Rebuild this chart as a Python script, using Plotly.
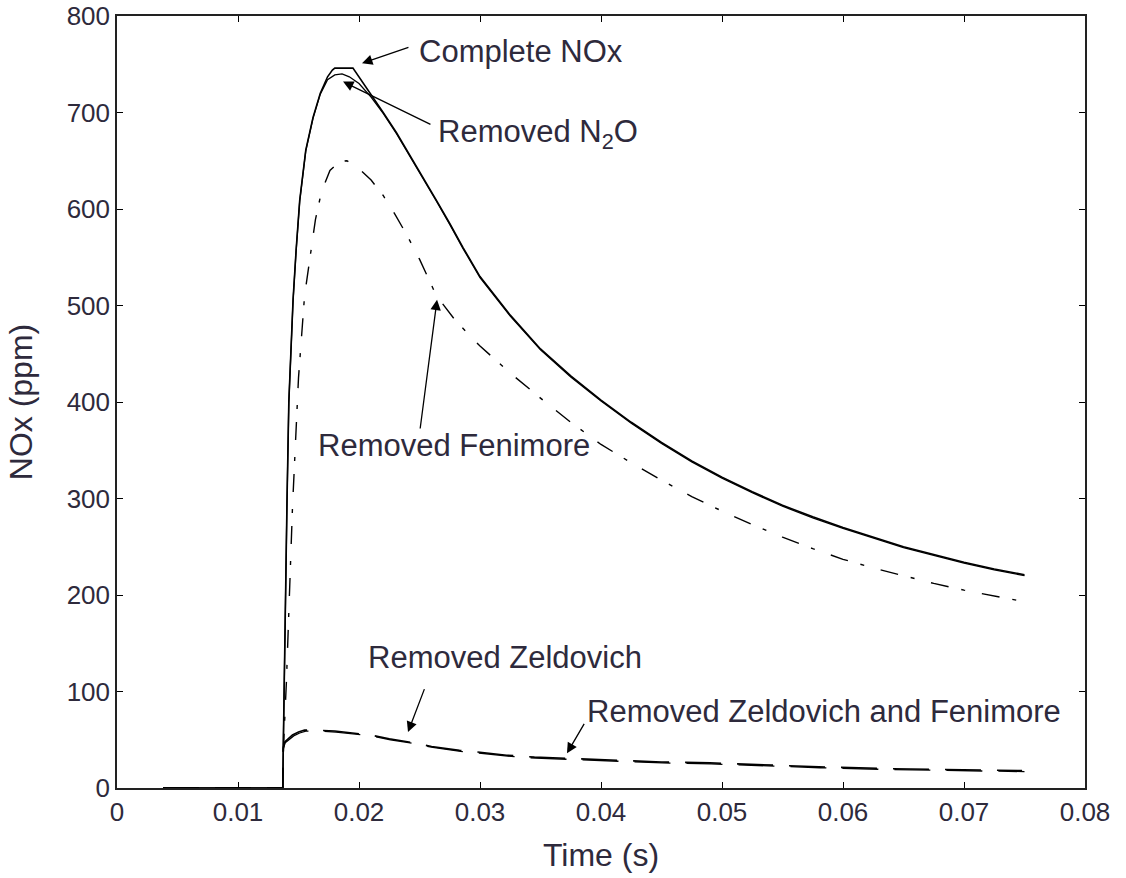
import plotly.graph_objects as go

# ---- data ----
t_complete = [0.0038, 0.0137, 0.01375, 0.0139, 0.01405, 0.0142, 0.01455, 0.0148, 0.0151, 0.0156,
              0.0162, 0.0168, 0.0174, 0.0178, 0.0180, 0.0195, 0.0200, 0.0210, 0.0220, 0.0231,
              0.0242, 0.0253, 0.0264, 0.0275, 0.0286, 0.030, 0.0325, 0.035, 0.0375, 0.040,
              0.0425, 0.045, 0.0475, 0.050, 0.0525, 0.055, 0.0575, 0.060, 0.0625, 0.065,
              0.0675, 0.070, 0.0725, 0.075]
nox_complete = [0, 0, 50, 195, 298, 400, 506, 557, 609, 661,
                695, 720, 737, 744, 746, 746, 737, 718, 700, 679,
                656, 633, 609, 585, 560, 530, 490, 455, 427, 402,
                379, 358, 339, 322, 307, 293, 281, 270, 260, 250,
                242, 234, 227, 221]

t_no_n2o = [0.0038, 0.0137, 0.01375, 0.0139, 0.01405, 0.0142, 0.01455, 0.0148, 0.0151, 0.0156,
            0.0162, 0.0168, 0.0174, 0.0180, 0.0186, 0.0192, 0.0200, 0.0210, 0.0220, 0.0231,
            0.0242, 0.0253, 0.0264, 0.0275, 0.0286, 0.030, 0.0325, 0.035, 0.0375, 0.040,
            0.0425, 0.045, 0.0475, 0.050, 0.0525, 0.055, 0.0575, 0.060, 0.0625, 0.065,
            0.0675, 0.070, 0.0725, 0.075]
nox_no_n2o = [0, 0, 49, 194, 297, 399, 505, 556, 608, 660,
              694, 719, 734, 739, 740, 737, 730, 716, 699, 678,
              655, 632, 608, 584, 559, 529, 489, 454, 426, 401,
              378, 357, 338, 321, 306, 292, 280, 269, 259, 249,
              241, 233, 226, 220]

t_no_fen = [0.0038, 0.0137, 0.01375, 0.0140, 0.0145, 0.0150, 0.0155, 0.0161, 0.0164, 0.0169,
            0.0176, 0.0184, 0.0190, 0.0198, 0.0210, 0.0220, 0.0230, 0.0240, 0.0250, 0.0264,
            0.0280, 0.030, 0.0325, 0.035, 0.0375, 0.040, 0.0425, 0.045, 0.0475, 0.050,
            0.0525, 0.055, 0.0575, 0.060, 0.0625, 0.065, 0.0675, 0.070, 0.0725, 0.075]
nox_no_fen = [0, 0, 40, 110, 290, 425, 510, 565, 589, 618,
              640, 649, 650, 644, 630, 614, 594, 572, 548, 510,
              484, 458, 430, 404, 379, 356, 337, 319, 302, 287,
              273, 260, 248, 237, 228, 220, 212, 205, 199, 193]

t_no_zel = [0.0038, 0.0137, 0.01375, 0.01388, 0.0145, 0.0150, 0.0155, 0.0165, 0.0180, 0.0195,
            0.0209, 0.0225, 0.0240, 0.0260, 0.0283, 0.0300, 0.0322, 0.0345, 0.0366, 0.0390,
            0.0410, 0.0450, 0.0490, 0.0531, 0.0580, 0.0641, 0.0700, 0.0748]
nox_no_zel = [0, 0, 42, 48, 55, 58, 60, 60, 59, 57,
              55, 51, 48, 43, 39, 37, 34, 32, 31, 30,
              29, 27, 26, 24, 22, 20, 19, 18]

t_no_zel_fen = [0.0038, 0.0137, 0.01375, 0.0139, 0.0146, 0.0151, 0.0156, 0.0166, 0.0181, 0.0196,
                0.0210, 0.0226, 0.0241, 0.0261, 0.0284, 0.0301, 0.0323, 0.0346, 0.0367, 0.0391,
                0.0411, 0.0451, 0.0491, 0.0532, 0.0581, 0.0642, 0.0701, 0.0750]
nox_no_zel_fen = [0, 0, 41, 47, 54, 57, 59, 59, 58, 56,
                  54, 50, 47, 42, 38, 36, 33, 31, 30, 29,
                  28, 26, 25, 23, 21, 19, 18, 17]

x_ticks = [0, 0.01, 0.02, 0.03, 0.04, 0.05, 0.06, 0.07, 0.08]
x_tick_labels = ["0", "0.01", "0.02", "0.03", "0.04", "0.05", "0.06", "0.07", "0.08"]
y_ticks = [0, 100, 200, 300, 400, 500, 600, 700, 800]

labels = ["Complete NOx", "Removed N<sub>2</sub>O", "Removed Fenimore",
          "Removed Zeldovich", "Removed Zeldovich and Fenimore"]
label_pos = [(0.02480, 763), (0.02640, 678), (0.01645, 355), (0.02060, 135), (0.03870, 79)]
arrow_tail = [(0.02421, 768), (0.02603, 687), (0.02504, 371), (0.02545, 104), (0.03868, 68)]
arrow_head = [(0.02025, 751), (0.01868, 732), (0.02645, 506), (0.02405, 58), (0.03719, 36)]

FONT = "Liberation Sans, Arial, sans-serif"
TXT = "#2e2a3c"

fig = go.Figure()
fig.add_trace(go.Scatter(x=t_complete, y=nox_complete, mode="lines",
                         line=dict(color="black", width=1.6), name=labels[0]))
fig.add_trace(go.Scatter(x=t_no_n2o, y=nox_no_n2o, mode="lines",
                         line=dict(color="black", width=1.3), name=labels[1]))
fig.add_trace(go.Scatter(x=t_no_fen, y=nox_no_fen, mode="lines",
                         line=dict(color="black", width=1.4, dash="18px,13px,4px,17px"), name=labels[2]))
fig.add_trace(go.Scatter(x=t_no_zel, y=nox_no_zel, mode="lines",
                         line=dict(color="black", width=1.6, dash="36px,16px"), name=labels[3]))
fig.add_trace(go.Scatter(x=t_no_zel_fen, y=nox_no_zel_fen, mode="lines",
                         line=dict(color="black", width=1.3, dash="36px,16px"), name=labels[4]))

annotations = []
for (tx, ty), (hx, hy) in zip(arrow_tail, arrow_head):
    annotations.append(dict(x=hx, y=hy, ax=tx, ay=ty, xref="x", yref="y", axref="x", ayref="y",
                            text="", showarrow=True, arrowhead=2, arrowsize=1.6, arrowwidth=1.3,
                            arrowcolor="black", standoff=0, startstandoff=0))
for lab, (lx, ly) in zip(labels, label_pos):
    annotations.append(dict(x=lx, y=ly, xref="x", yref="y", text=lab, showarrow=False,
                            xanchor="left", yanchor="middle",
                            font=dict(family=FONT, size=31, color=TXT)))

fig.update_layout(
    width=1126, height=878,
    margin=dict(l=117, r=41, t=16, b=90),
    paper_bgcolor="white", plot_bgcolor="white",
    showlegend=False,
    annotations=annotations,
    font=dict(family=FONT, color=TXT),
)
fig.update_xaxes(range=[0, 0.08], tickvals=x_ticks, ticktext=x_tick_labels,
                 ticks="inside", ticklen=6, tickcolor="black", tickwidth=1.2,
                 showline=True, linecolor="#222", linewidth=1.5, mirror="ticks",
                 showgrid=False, zeroline=False,
                 tickfont=dict(family=FONT, size=26, color=TXT),
                 title=dict(text="Time (s)", font=dict(family=FONT, size=32, color=TXT), standoff=18),
                 automargin=False)
fig.update_yaxes(range=[0, 800], tickvals=y_ticks,
                 ticks="inside", ticklen=6, tickcolor="black", tickwidth=1.2,
                 showline=True, linecolor="#222", linewidth=1.5, mirror="ticks",
                 showgrid=False, zeroline=False,
                 tickfont=dict(family=FONT, size=26, color=TXT),
                 title=dict(text="NOx (ppm)", font=dict(family=FONT, size=32, color=TXT), standoff=24),
                 automargin=False)

fig.write_html("out.html")
